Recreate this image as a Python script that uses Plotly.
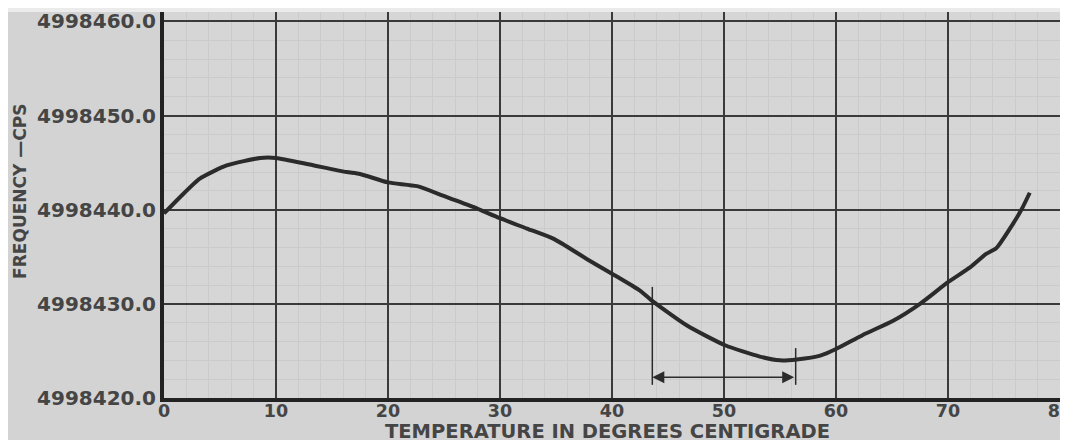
import plotly.graph_objects as go

# Curve data
temperature = [0, 1.4, 3.2, 5.6, 8.6, 10, 13, 16.3, 17.5, 20, 22.6, 24.9, 27.6, 30,
               32.4, 34.8, 37.7, 40, 42.5, 43.5, 46.7, 50.1, 53.2, 55, 56.5, 58.6,
               60, 62.4, 65.1, 67.5, 70, 72, 73.4, 74.3, 75.8, 76.6, 77.3]
frequency = [4998439.6, 4998441.3, 4998443.3, 4998444.7, 4998445.5, 4998445.5,
             4998444.8, 4998444.0, 4998443.8, 4998442.9, 4998442.5, 4998441.5,
             4998440.3, 4998439.1, 4998438.0, 4998436.9, 4998434.8, 4998433.2,
             4998431.4, 4998430.4, 4998427.7, 4998425.6, 4998424.4, 4998424.0,
             4998424.1, 4998424.5, 4998425.2, 4998426.7, 4998428.2, 4998430.0,
             4998432.3, 4998433.9, 4998435.3, 4998435.9, 4998438.5, 4998440.1,
             4998441.8]

# Range markers (vertical bars with double arrow)
marker_x = [43.6, 56.4]
marker_top = [4998431.8, 4998425.3]
marker_bottom = [4998421.4, 4998421.4]
arrow_y = 4998422.2

x_ticks = [0, 10, 20, 30, 40, 50, 60, 70, 80]
y_ticks = [4998420, 4998430, 4998440, 4998450, 4998460]

x_title = "TEMPERATURE IN DEGREES CENTIGRADE"
y_title = "FREQUENCY —CPS"

ink = "#2b2b2b"
text_col = "#454545"
font_family = "DejaVu Sans"

fig = go.Figure()
fig.add_trace(go.Scatter(
    x=temperature, y=frequency, mode="lines",
    line=dict(color=ink, width=4, shape="spline", smoothing=0.6),
    hoverinfo="skip", showlegend=False,
))

shapes = []
for mx, mt, mb in zip(marker_x, marker_top, marker_bottom):
    shapes.append(dict(type="line", xref="x", yref="y", x0=mx, x1=mx, y0=mb, y1=mt,
                       line=dict(color=ink, width=1.5)))
# lighter strip above the paper edge
shapes.append(dict(type="rect", xref="paper", yref="paper", x0=-0.2, x1=1.02,
                   y0=1.0, y1=1.05, fillcolor="#ebebeb", line=dict(width=0), layer="below"))

fig.add_annotation(
    x=marker_x[0], y=arrow_y, ax=marker_x[1], ay=arrow_y,
    xref="x", yref="y", axref="x", ayref="y",
    showarrow=True, arrowhead=2, arrowside="end+start", arrowsize=1.6,
    arrowwidth=1.5, arrowcolor=ink, text="",
)

fig.add_annotation(
    text=y_title, textangle=-90,
    xref="paper", yref="paper", x=-0.1607, y=0.534,
    xanchor="center", yanchor="middle",
    showarrow=False, font=dict(family=font_family, size=17, color=text_col, weight="bold"),
)
fig.add_annotation(
    text=x_title,
    xref="paper", yref="paper", x=0.4955, y=-0.088,
    xanchor="center", yanchor="middle",
    showarrow=False, font=dict(family=font_family, size=19.5, color=text_col, weight="bold"),
)

fig.update_layout(
    width=1060, height=432,
    margin=dict(l=156, r=8, t=4, b=42, autoexpand=False),
    paper_bgcolor="#d3d3d3",
    plot_bgcolor="#d6d6d6",
    shapes=shapes,
    font=dict(family=font_family, color=text_col),
    xaxis=dict(
        range=[0, 80], tickvals=x_ticks, ticktext=[str(v) for v in x_ticks],
        showgrid=True, gridcolor="#3a3a3a", gridwidth=2,
        minor=dict(dtick=2, showgrid=True, gridcolor="#cbcbcb", gridwidth=1),
        showline=True, linecolor="#222222", linewidth=4, mirror=False,
        zeroline=False, ticks="", automargin=False, ticklabeloverflow="allow",
        ticklabelstandoff=-6,
        tickfont=dict(size=17.5, color=text_col, weight="bold"),
    ),
    yaxis=dict(
        range=[4998420, 4998461], tickvals=y_ticks, tickformat=".1f",
        showgrid=True, gridcolor="#3a3a3a", gridwidth=2,
        minor=dict(dtick=2, showgrid=True, gridcolor="#cbcbcb", gridwidth=1),
        showline=True, linecolor="#222222", linewidth=4, mirror=True,
        zeroline=False, ticks="", automargin=False, ticklabeloverflow="allow",
        tickfont=dict(size=20, color=text_col, weight="bold"),
    ),
)

fig.write_html("out.html")
